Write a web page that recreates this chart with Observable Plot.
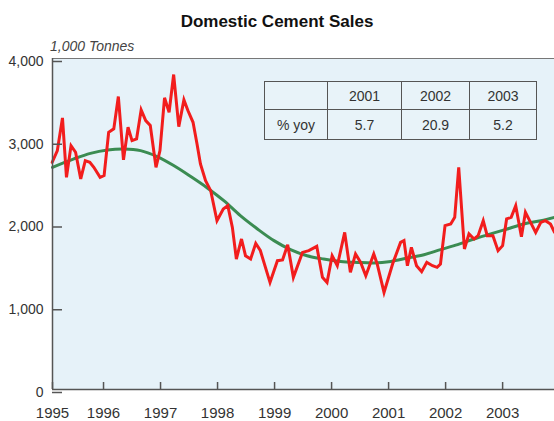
<!DOCTYPE html>
<html>
<head>
<meta charset="utf-8">
<script src="https://cdn.jsdelivr.net/npm/d3@7"></script>
<script src="https://cdn.jsdelivr.net/npm/@observablehq/plot@0.6"></script>
<style>
  body { margin: 0; background: #ffffff; font-family: "Liberation Sans", Arial, sans-serif; }
  #wrap { position: relative; width: 554px; height: 421px; overflow: hidden; }
  #head { position: relative; width: 554px; height: 50px; }
  #title { position: absolute; top: 12px; left: 0; width: 554px; text-align: center;
           font-weight: bold; font-size: 17px; line-height: 20px; color: #111; }
  #sub { position: absolute; top: 38px; left: 50px; font-style: italic; font-size: 14px;
         line-height: 16px; color: #444; }
  #chart svg { display: block; }
  #tbl { position: absolute; left: 264px; top: 81px; border-collapse: collapse;
         font-size: 14px; color: #333; background: #e8f3f9; }
  #tbl td { border: 1.5px solid #555; text-align: center; padding: 0; }
</style>
</head>
<body>
<div id="wrap">
  <div id="head"><div id="title"></div><div id="sub"></div></div>
  <div id="chart"></div>
  <table id="tbl"></table>
</div>
<script>
const titleText = "Domestic Cement Sales";
const unitText = "1,000 Tonnes";

// Red: monthly domestic cement sales (1,000 tonnes)
const salesYear = [1995.10,1995.19,1995.28,1995.35,1995.43,1995.51,1995.60,1995.68,1995.76,1995.83,1995.94,
  1996.01,1996.09,1996.18,1996.26,1996.35,1996.43,1996.50,1996.58,1996.66,1996.74,1996.82,1996.92,1996.99,
  1997.07,1997.15,1997.23,1997.32,1997.41,1997.48,1997.57,1997.64,1997.70,1997.79,1997.88,1997.99,
  1998.10,1998.18,1998.26,1998.33,1998.42,1998.49,1998.58,1998.67,1998.75,1998.92,
  1999.05,1999.14,1999.23,1999.33,1999.49,1999.60,1999.74,1999.84,1999.92,
  2000.01,2000.10,2000.23,2000.33,2000.42,2000.51,2000.60,2000.74,2000.80,2000.92,
  2001.07,2001.21,2001.27,2001.33,2001.40,2001.49,2001.58,2001.67,2001.77,2001.85,2001.91,2001.99,
  2002.09,2002.16,2002.23,2002.33,2002.41,2002.50,2002.57,2002.66,2002.73,2002.83,2002.92,
  2003.00,2003.07,2003.15,2003.23,2003.33,2003.40,2003.49,2003.58,2003.67,2003.75,2003.84,2003.91];
const salesValue = [2746,2887,3282,2564,2947,2867,2545,2766,2746,2685,2564,
  2585,3108,3150,3540,2775,3169,3008,3029,3380,3250,3190,2685,2887,
  3525,3350,3806,3177,3500,3371,3229,2968,2726,2524,2403,2040,
  2182,2222,1959,1577,1819,1617,1577,1766,1680,1294,
  1557,1565,1750,1355,1657,1678,1730,1355,1294,
  1617,1496,1899,1415,1638,1536,1375,1638,1517,1173,
  1517,1778,1799,1496,1718,1496,1424,1536,1496,1476,1517,1980,
  2000,2080,2685,1698,1880,1819,1859,2040,1859,1859,1678,
  1738,2061,2080,2222,1847,2141,2020,1899,2020,2040,2000,1899];

// Green: trend
const trendYear = [1995.105,1995.48,1995.77,1996.07,1996.36,1996.65,1996.94,1997.23,1997.53,1997.82,
  1998.11,1998.40,1998.70,1998.99,1999.28,1999.57,1999.86,2000.16,2000.45,2000.74,
  2001.04,2001.33,2001.62,2001.91,2002.21,2002.50,2002.79,2003.08,2003.37,2003.67,2003.91];
const trendValue = [2685,2787,2854,2895,2907,2887,2814,2706,2573,2436,
  2282,2101,1940,1799,1690,1617,1577,1548,1536,1529,
  1548,1589,1629,1690,1750,1819,1880,1940,2000,2040,2080];

const xTicks = [1995.105,1996,1997,1998,1999,2000,2001,2002,2003];
const yTicks = [0,1000,2000,3000,4000];

// Inset table
const tableCols = ["", "2001", "2002", "2003"];
const tableRowLabel = "% yoy";
const tableValues = ["5.7", "20.9", "5.2"];

document.getElementById("title").textContent = titleText;
document.getElementById("sub").textContent = unitText;

const sales = salesYear.map((y, i) => ({year: y, value: salesValue[i]}));
const trend = trendYear.map((y, i) => ({year: y, value: trendValue[i]}));
const xMin = 1995.105, xMax = 2003.91;

const chart = Plot.plot({
  width: 554,
  height: 371,
  marginTop: 8,
  marginBottom: 32,
  marginLeft: 52,
  marginRight: 0,
  style: {fontFamily: "'Liberation Sans', Arial, sans-serif", fontSize: "14px", color: "#333", background: "transparent"},
  x: {domain: [xMin, xMax], label: null},
  y: {domain: [0, 4000], label: null},
  marks: [
    Plot.frame({fill: "#e6f2f9", stroke: null}),
    Plot.ruleY([4000], {stroke: "#777", strokeWidth: 1.2}),
    Plot.line(trend, {x: "year", y: "value", stroke: "#3b8c52", strokeWidth: 3, curve: "catmull-rom"}),
    Plot.line(sales, {x: "year", y: "value", stroke: "#f21d1d", strokeWidth: 3, strokeLinejoin: "miter", strokeMiterlimit: 4}),
    Plot.axisY({ticks: yTicks, label: null, tickSize: -10, tickPadding: 19, tickFormat: d3.format(","), dy: 3, stroke: "#555", strokeWidth: 1.5, fontSize: 14}),
    Plot.axisX({ticks: xTicks, label: null, tickSize: -7, tickPadding: 25, tickFormat: d => String(Math.floor(d)), stroke: "#555", strokeWidth: 1.5, fontSize: 15}),
    Plot.ruleX([xMin], {stroke: "#555", strokeWidth: 1.5}),
    Plot.ruleY([0], {stroke: "#555", strokeWidth: 1.5})
  ]
});
document.getElementById("chart").appendChild(chart);

// Build table
const tbl = document.getElementById("tbl");
const widths = [62, 73, 67, 66];
const r1 = document.createElement("tr");
r1.style.height = "28px";
tableCols.forEach((c, i) => { const td = document.createElement("td"); td.textContent = c; td.style.width = widths[i] + "px"; r1.appendChild(td); });
const r2 = document.createElement("tr");
r2.style.height = "30px";
[tableRowLabel, ...tableValues].forEach((c, i) => { const td = document.createElement("td"); td.textContent = c; td.style.width = widths[i] + "px"; r2.appendChild(td); });
tbl.appendChild(r1); tbl.appendChild(r2);
</script>
</body>
</html>
